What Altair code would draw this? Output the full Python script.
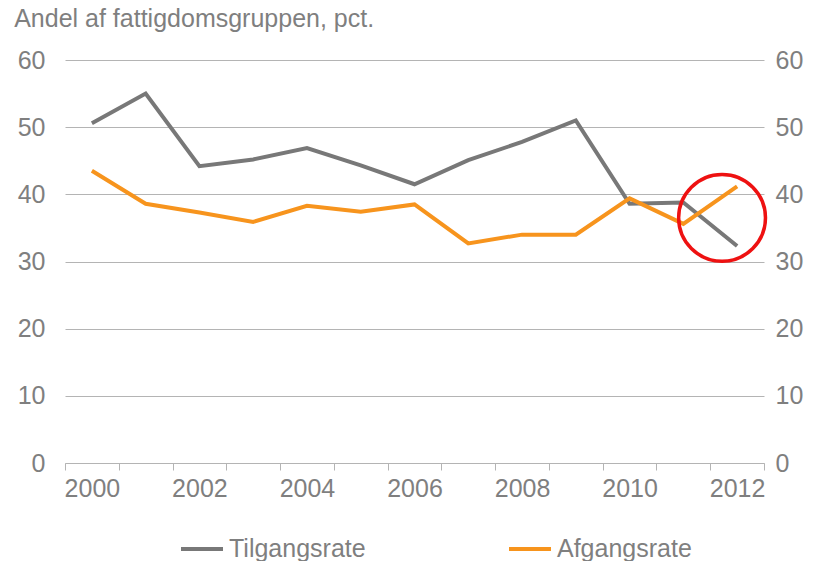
import altair as alt
import pandas as pd

# ---- data ----
years = list(range(2000, 2013))
tilgangsrate = [50.6, 55.0, 44.2, 45.2, 46.9, 44.3, 41.5, 45.1, 47.8, 51.0, 38.6, 38.8, 32.3]
afgangsrate = [43.5, 38.6, 37.3, 35.9, 38.3, 37.4, 38.5, 32.7, 34.0, 34.0, 39.4, 35.6, 41.2]
series_names = ["Tilgangsrate", "Afgangsrate"]
y_ticks = [0, 10, 20, 30, 40, 50, 60]
# annotation circle (data coordinates)
circle_x = [2011.72]
circle_y = [36.5]

FONT = "Liberation Sans"
FS = 25
TEXT = "#7f7f7f"
GRAY = "#787878"
ORANGE = "#f7941d"
GRID = "#b4b4b4"

rows = []
for name, vals in zip(series_names, [tilgangsrate, afgangsrate]):
    for yr, v in zip(years, vals):
        rows.append({"year": yr, "value": v, "series": name})
df = pd.DataFrame(rows)
circ = pd.DataFrame({"x": circle_x, "y": circle_y})

x_dom = [years[0] - 0.5, years[-1] + 0.5]
x_ticks = [y - 0.5 for y in years] + [years[-1] + 0.5]
y_scale = alt.Scale(domain=[0, 60], nice=False, zero=True)
x_scale = alt.Scale(domain=x_dom, nice=False, zero=False)

W, H = 699, 403
half_band = W / len(years) / 2

x_axis = alt.Axis(
    values=x_ticks,
    labelExpr=f"((datum.value + 0.5) % 2 == 0 && datum.value < {years[-1]}) ? format(datum.value + 0.5, 'd') : ''",
    labelOffset=half_band,
    labelFlush=False,
    labelOverlap=False,
    labelFontSize=FS,
    labelFont=FONT,
    labelColor=TEXT,
    labelPadding=6,
    tickSize=7,
    tickColor=GRID,
    domainColor=GRID,
    grid=False,
    title=None,
)

lines = alt.Chart(df).mark_line(strokeWidth=4).encode(
    x=alt.X("year:Q", scale=x_scale, axis=x_axis),
    y=alt.Y(
        "value:Q",
        scale=y_scale,
        axis=alt.Axis(
            values=y_ticks,
            orient="left",
            grid=True,
            gridColor=GRID,
            gridWidth=1,
            domain=False,
            ticks=False,
            labelPadding=20,
            labelFontSize=FS,
            labelFont=FONT,
            labelColor=TEXT,
            title=None,
        ),
    ),
    color=alt.Color(
        "series:N",
        scale=alt.Scale(domain=series_names, range=[GRAY, ORANGE]),
        sort=series_names,
        legend=alt.Legend(
            title=None,
            orient="none",
            legendX=114,
            legendY=466,
            direction="horizontal",
            columns=2,
            columnPadding=135,
            padding=0,
            symbolType="stroke",
            symbolSize=1764,
            symbolStrokeWidth=4,
            labelFontSize=FS,
            labelFont=FONT,
            labelColor=TEXT,
            labelOffset=4,
        ),
    ),
)

circle = alt.Chart(circ).mark_point(
    shape="circle", filled=False, size=7540, strokeWidth=3.5, color="#ee1111", opacity=1
).encode(
    x=alt.X("x:Q", scale=x_scale, axis=x_axis),
    y=alt.Y(
        "y:Q",
        scale=y_scale,
        axis=alt.Axis(
            values=y_ticks,
            orient="right",
            grid=False,
            domain=False,
            ticks=False,
            labelPadding=11,
            labelFontSize=FS,
            labelFont=FONT,
            labelColor=TEXT,
            title=None,
        ),
    ),
)

chart = (
    alt.layer(lines, circle)
    .resolve_axis(y="independent")
    .properties(
        width=W,
        height=H,
        title=alt.TitleParams(
            "Andel af fattigdomsgruppen, pct.",
            anchor="start",
            fontSize=FS,
            font=FONT,
            fontWeight="normal",
            color=TEXT,
            dx=-3,
            offset=16,
        ),
        autosize=alt.AutoSizeParams(type="none"),
        padding={"left": 57, "top": 52, "right": 40, "bottom": 98},
    )
    .configure_view(stroke=None)
)

chart.save("out.html", embed_options={"renderer": "svg", "actions": False})
